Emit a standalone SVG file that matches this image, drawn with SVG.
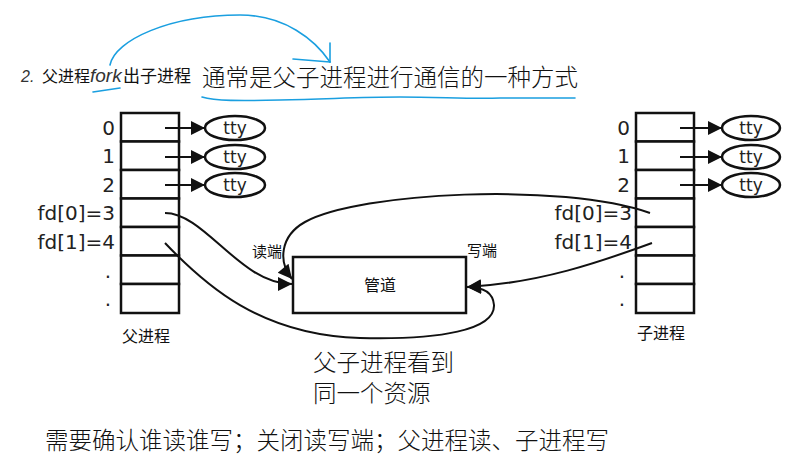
<svg xmlns="http://www.w3.org/2000/svg" width="807" height="468" viewBox="0 0 807 468">
<defs>
<style>
.bg{fill:#ffffff}
.cell{fill:#ffffff;stroke:#111;stroke-width:2.5}
.lbl{font-family:"DejaVu Sans","Noto Sans CJK SC",sans-serif;font-size:20px;fill:#222}
.cjk{font-family:"Noto Sans CJK SC","DejaVu Sans",sans-serif;fill:#111}
.note{font-family:"Noto Sans CJK SC",sans-serif;font-size:23.5px;font-weight:300;fill:#111}
.tty{fill:#fff;stroke:#111;stroke-width:2.5}
.ttyt{font-family:"DejaVu Sans",sans-serif;font-size:17px;fill:#222;text-anchor:middle}
.ln{fill:none;stroke:#111;stroke-width:2}
.blue{fill:none;stroke:#1a9fe0;stroke-width:1.6;stroke-linecap:round}
</style>
<marker id="ah" viewBox="0 0 10 10" refX="10" refY="5" markerWidth="17" markerHeight="14" markerUnits="userSpaceOnUse" orient="auto">
<path d="M0,0 L10,5 L0,10 z" fill="#111"/>
</marker>
</defs>
<rect class="bg" x="0" y="0" width="807" height="468"/>

<g id="title">
<text x="21" y="82" font-family="Liberation Sans,sans-serif" font-size="16" font-style="italic" fill="#333">2.</text>
<text x="42" y="82" class="cjk" font-size="16" fill="#333">父进程</text>
<text x="90" y="82" font-family="Liberation Sans,sans-serif" font-size="19" font-style="italic" fill="#333">fork</text>
<text x="123" y="82" class="cjk" font-size="17" fill="#333">出子进程</text>
<text x="202" y="86" class="note">通常是父子进程进行通信的一种方式</text>
</g>

<g id="annotation" class="blue">
<path d="M110,65 C115,40 170,15 240,15 C285,15 315,40 330,62"/>
<path d="M330,43 L330,62"/>
<path d="M293,59 C305,60 318,61 330,62"/>
<path d="M93,92 L120,88"/>
<path d="M202,97 C215,101 240,101 280,100 C330,99 360,97 400,97 C440,97 470,99 500,98 L575,98"/>
</g>

<g id="parent-table">
<rect class="cell" x="121" y="113" width="58" height="28.5"/>
<rect class="cell" x="121" y="141.5" width="58" height="28.5"/>
<rect class="cell" x="121" y="170" width="58" height="28.5"/>
<rect class="cell" x="121" y="198.5" width="58" height="28.5"/>
<rect class="cell" x="121" y="227" width="58" height="28.5"/>
<rect class="cell" x="121" y="255.5" width="58" height="28.5"/>
<rect class="cell" x="121" y="284" width="58" height="29"/>
<g class="lbl" text-anchor="end">
<text x="115" y="135">0</text>
<text x="115" y="163">1</text>
<text x="115" y="192">2</text>
<text x="115" y="220">fd[0]=3</text>
<text x="115" y="249">fd[1]=4</text>
<text x="111" y="278">.</text>
<text x="111" y="306">.</text>
</g>
<text x="146" y="342" class="cjk" font-size="16" text-anchor="middle">父进程</text>
</g>

<g id="parent-tty">
<ellipse class="tty" cx="235" cy="128" rx="30" ry="12"/>
<ellipse class="tty" cx="235" cy="157" rx="30" ry="12"/>
<ellipse class="tty" cx="235" cy="185" rx="30" ry="12"/>
<text class="ttyt" x="235" y="134">tty</text>
<text class="ttyt" x="235" y="163">tty</text>
<text class="ttyt" x="235" y="191">tty</text>
</g>

<g id="child-table">
<rect class="cell" x="636" y="113" width="58" height="28.5"/>
<rect class="cell" x="636" y="141.5" width="58" height="28.5"/>
<rect class="cell" x="636" y="170" width="58" height="28.5"/>
<rect class="cell" x="636" y="198.5" width="58" height="28.5"/>
<rect class="cell" x="636" y="227" width="58" height="28.5"/>
<rect class="cell" x="636" y="255.5" width="58" height="28.5"/>
<rect class="cell" x="636" y="284" width="58" height="29"/>
<g class="lbl" text-anchor="end">
<text x="630" y="135">0</text>
<text x="630" y="163">1</text>
<text x="630" y="192">2</text>
<text x="632" y="220">fd[0]=3</text>
<text x="632" y="249">fd[1]=4</text>
<text x="625" y="278">.</text>
<text x="625" y="306">.</text>
</g>
<text x="661" y="339" class="cjk" font-size="16" text-anchor="middle">子进程</text>
</g>

<g id="child-tty">
<ellipse class="tty" cx="751" cy="128" rx="29" ry="12"/>
<ellipse class="tty" cx="751" cy="157" rx="29" ry="12"/>
<ellipse class="tty" cx="751" cy="185" rx="29" ry="12"/>
<text class="ttyt" x="751" y="134">tty</text>
<text class="ttyt" x="751" y="163">tty</text>
<text class="ttyt" x="751" y="191">tty</text>
</g>

<g id="pipe">
<rect x="293" y="257" width="173" height="56" fill="#fff" stroke="#111" stroke-width="2.5"/>
<text x="380" y="291" class="cjk" font-size="16" text-anchor="middle">管道</text>
<text x="252" y="257" class="cjk" font-size="15">读端</text>
<text x="467" y="256" class="cjk" font-size="15">写端</text>
</g>

<g id="connectors">
<path class="ln" d="M165,128 L205,128" marker-end="url(#ah)"/>
<path class="ln" d="M165,157 L205,157" marker-end="url(#ah)"/>
<path class="ln" d="M165,185 L205,185" marker-end="url(#ah)"/>
<path class="ln" d="M680,128 L722,128" marker-end="url(#ah)"/>
<path class="ln" d="M680,157 L722,157" marker-end="url(#ah)"/>
<path class="ln" d="M680,185 L722,185" marker-end="url(#ah)"/>
<path class="ln" d="M165,213 C205,213 240,284 292,284" marker-end="url(#ah)"/>
<path class="ln" d="M650,213 C560,182 360,192 305,222 C280,236 278,262 292,279" marker-end="url(#ah)"/>
<path class="ln" d="M165,243 C205,285 260,335 360,338 C440,340 495,330 494,305 C493,292 482,287 467,287" marker-end="url(#ah)"/>
<path class="ln" d="M652,243 C600,262 540,283 467,287" marker-end="url(#ah)"/>
</g>

<g id="notes">
<text x="313" y="371" class="note">父子进程看到</text>
<text x="313" y="402" class="note">同一个资源</text>
<text x="45" y="449" class="note">需要确认谁读谁写；关闭读写端；父进程读、子进程写</text>
</g>
</svg>
